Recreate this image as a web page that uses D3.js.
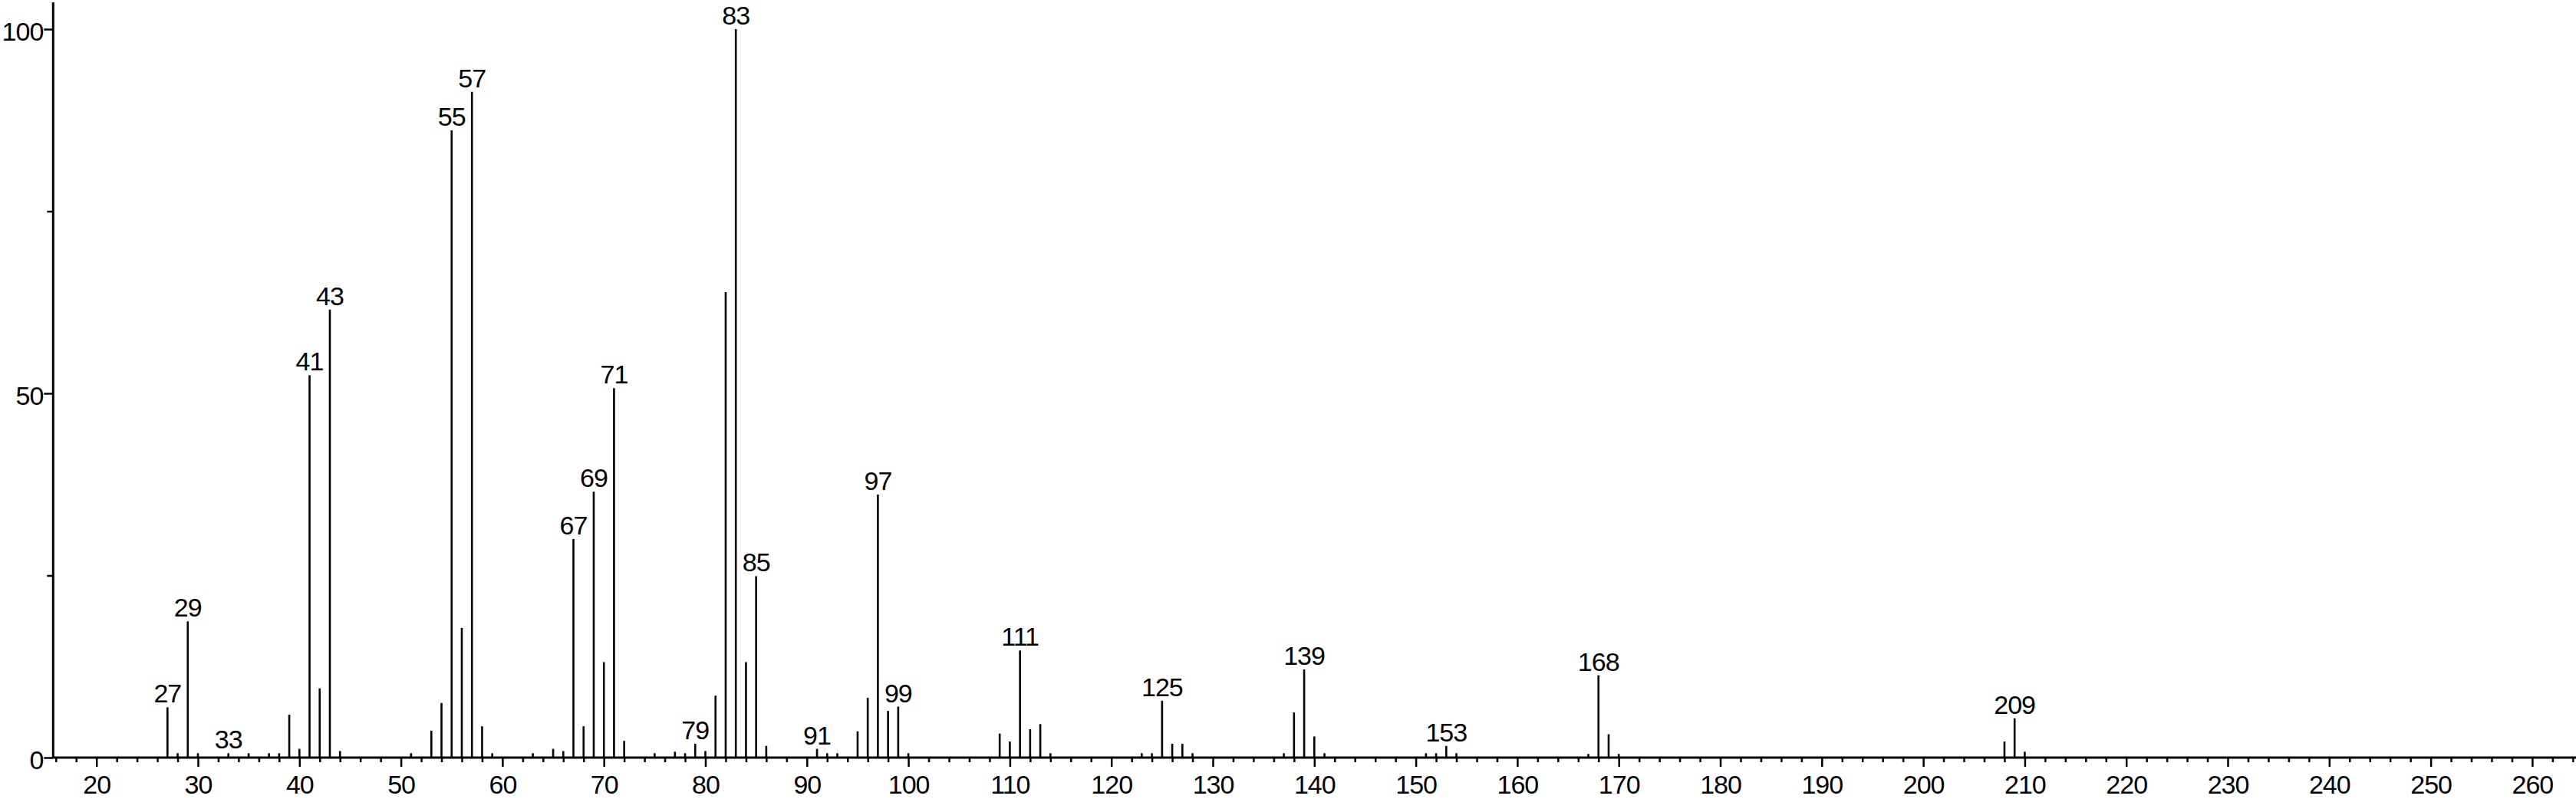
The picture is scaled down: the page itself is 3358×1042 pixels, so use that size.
<!DOCTYPE html>
<html>
<head>
<meta charset="utf-8">
<script src="https://cdn.jsdelivr.net/npm/d3@7/dist/d3.min.js"></script>
<style>
  body { margin: 0; background: #fff; }
  #spectrum text { font-family: "Liberation Sans", Arial, sans-serif; font-size: 34px; letter-spacing: -1px; fill: #000; }
</style>
</head>
<body>
<svg id="spectrum" width="3358" height="1042"></svg>
<script>
// m/z of every peak and its relative intensity (%)
const mz = [27, 28, 29, 30, 33, 35, 37, 38, 39, 40, 41, 42, 43, 44,
  51, 53, 54, 55, 56, 57, 58, 59, 63, 65, 66, 67, 68, 69, 70, 71, 72,
  75, 77, 78, 79, 80, 81, 82, 83, 84, 85, 86, 91, 92, 93, 95, 96, 97, 98, 99, 100,
  109, 110, 111, 112, 113, 114, 123, 124, 125, 126, 127, 128,
  137, 138, 139, 140, 141, 151, 152, 153, 154, 167, 168, 169, 170, 208, 209, 210];
const intensity = [6.9, 0.6, 18.7, 0.6, 0.6, 0.6, 0.6, 0.6, 5.9, 1.2, 52.5, 9.5, 61.5, 0.9,
  0.6, 3.7, 7.5, 86.1, 17.8, 91.4, 4.3, 0.6, 0.6, 1.2, 0.9, 30.0, 4.3, 36.5, 13.1, 50.7, 2.3,
  0.6, 0.8, 0.6, 1.9, 0.9, 8.5, 63.9, 100, 13.1, 24.9, 1.6, 1.2, 0.6, 0.6, 3.6, 8.2, 36.1, 6.4, 7.0, 0.6,
  3.3, 2.2, 14.7, 3.9, 4.6, 0.6, 0.6, 0.6, 7.8, 1.9, 1.9, 0.6,
  0.6, 6.2, 12.1, 2.9, 0.6, 0.6, 0.6, 1.6, 0.6, 0.5, 11.3, 3.2, 0.5, 2.2, 5.4, 0.8];
// peaks that carry their m/z as a label
const labelled = [27, 29, 33, 41, 43, 55, 57, 67, 69, 71, 79, 83, 85, 91, 97, 99,
  111, 125, 139, 153, 168, 209];

const xMajor = d3.range(20, 261, 10);
const yMajor = [0, 50, 100];
const yMinor = [25, 75];

let svg = d3.select("#spectrum");
let width = +svg.attr("width");

let x = d3.scaleLinear().domain([20, 260]).range([125.7, 3300.9]);
let y = d3.scaleLinear().domain([0, 100]).range([988, 38]);
let x0 = 69.3;

let peaks = mz.map((m, i) => ({ mz: m, v: intensity[i] }));

// x axis: minor ticks every 2, major every 10
let xMinor = d3.range(16, 265, 2).filter(d => d % 10 !== 0);
svg.append("g")
  .attr("transform", `translate(0,${y(0)})`)
  .call(d3.axisBottom(x).tickValues(xMinor).tickSize(6).tickFormat(""))
  .call(g => g.select(".domain").remove());

svg.append("g")
  .attr("transform", `translate(0,${y(0)})`)
  .call(d3.axisBottom(x).tickValues(xMajor).tickSize(12).tickPadding(11))
  .call(g => g.select(".domain").remove())
  .call(g => g.selectAll("text").attr("font-size", null).attr("font-family", null));

// y axis
svg.append("g")
  .attr("transform", `translate(${x0},0)`)
  .call(d3.axisLeft(y).tickValues(yMinor).tickSize(8).tickFormat(""))
  .call(g => g.select(".domain").remove());

svg.append("g")
  .attr("transform", `translate(${x0},0)`)
  .call(d3.axisLeft(y).tickValues(yMajor).tickSize(12).tickPadding(1))
  .call(g => g.select(".domain").remove())
  .call(g => g.selectAll("text").attr("dy", "0.42em").attr("font-size", null).attr("font-family", null));

svg.selectAll(".tick line").attr("stroke", "#000").attr("stroke-width", 2.5);

// axis lines
svg.append("line")
  .attr("x1", x0).attr("x2", width)
  .attr("y1", y(0)).attr("y2", y(0))
  .attr("stroke", "#000").attr("stroke-width", 3);
svg.append("line")
  .attr("x1", x0).attr("x2", x0)
  .attr("y1", 3).attr("y2", y(0))
  .attr("stroke", "#000").attr("stroke-width", 3);

// sticks
svg.append("g").selectAll("line")
  .data(peaks)
  .enter().append("line")
  .attr("x1", d => x(d.mz)).attr("x2", d => x(d.mz))
  .attr("y1", y(0)).attr("y2", d => y(d.v))
  .attr("stroke", "#000")
  .attr("stroke-width", 2.6);

// peak labels
svg.append("g").selectAll("text")
  .data(peaks.filter(d => labelled.includes(d.mz)))
  .enter().append("text")
  .attr("x", d => x(d.mz))
  .attr("y", d => y(d.v) - 6)
  .attr("text-anchor", "middle")
  .text(d => d.mz);
</script>
</body>
</html>
